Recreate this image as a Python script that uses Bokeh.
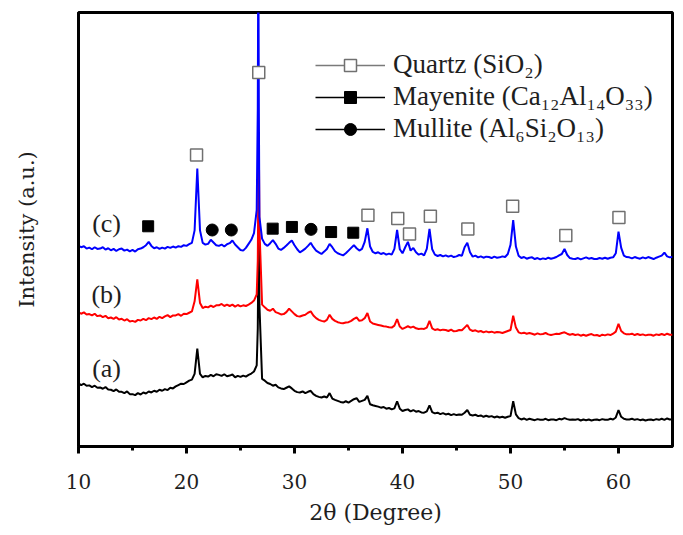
from bokeh.plotting import figure
from bokeh.models import Range1d, FixedTicker, Legend, LegendItem
from bokeh.core.properties import value
from bokeh.embed import file_html
from bokeh.resources import INLINE

# 2-theta grid (degrees)
two_theta = [
    10, 10.25, 10.5, 10.75, 11, 11.25, 11.5, 11.75, 12, 12.25, 12.5, 12.75,
    13, 13.25, 13.5, 13.75, 14, 14.25, 14.5, 14.75, 15, 15.25, 15.5, 15.75,
    16, 16.25, 16.5, 16.75, 17, 17.25, 17.5, 17.75, 18, 18.25, 18.5, 18.75,
    19, 19.25, 19.5, 19.75, 20, 20.25, 20.5, 20.75, 21, 21.25, 21.5, 21.75,
    22, 22.25, 22.5, 22.75, 23, 23.25, 23.5, 23.75, 24, 24.25, 24.5, 24.75,
    25, 25.25, 25.5, 25.75, 26, 26.25, 26.5, 26.6, 26.65, 26.7, 26.75,
    27, 27.25, 27.5, 27.75, 28, 28.25, 28.5, 28.75, 29, 29.25, 29.5, 29.75,
    30, 30.25, 30.5, 30.75, 31, 31.25, 31.5, 31.75, 32, 32.25, 32.5, 32.75,
    33, 33.25, 33.5, 33.75, 34, 34.25, 34.5, 34.75, 35, 35.25, 35.5, 35.75,
    36, 36.25, 36.5, 36.75, 37, 37.25, 37.5, 37.75, 38, 38.25, 38.5, 38.75,
    39, 39.25, 39.5, 39.75, 40, 40.25, 40.5, 40.75, 41, 41.25, 41.5, 41.75,
    42, 42.25, 42.5, 42.75, 43, 43.25, 43.5, 43.75, 44, 44.25, 44.5, 44.75,
    45, 45.25, 45.5, 45.75, 46, 46.25, 46.5, 46.75, 47, 47.25, 47.5, 47.75,
    48, 48.25, 48.5, 48.75, 49, 49.25, 49.5, 49.75, 50, 50.25, 50.5, 50.75,
    51, 51.25, 51.5, 51.75, 52, 52.25, 52.5, 52.75, 53, 53.25, 53.5, 53.75,
    54, 54.25, 54.5, 54.75, 55, 55.25, 55.5, 55.75, 56, 56.25, 56.5, 56.75,
    57, 57.25, 57.5, 57.75, 58, 58.25, 58.5, 58.75, 59, 59.25, 59.5, 59.75,
    60, 60.25, 60.5, 60.75, 61, 61.25, 61.5, 61.75, 62, 62.25, 62.5, 62.75,
    63, 63.25, 63.5, 63.75, 64, 64.25, 64.5, 64.75, 65,
]

# (c) blue pattern (displayed, offset) intensity, a.u.
intensity_c = [
    595, 590, 593, 586, 589, 584, 590, 585, 586, 590, 583, 587,
    581, 585, 579, 584, 586, 580, 583, 578, 582, 577, 584, 586,
    590, 596, 606, 594, 587, 590, 585, 589, 586, 591, 588, 592,
    589, 593, 591, 596, 594, 599, 603, 640, 823, 640, 603, 598,
    600, 612, 604, 596, 594, 598, 592, 599, 602, 610, 598, 590,
    582, 580, 588, 600, 612, 632, 700, 1000, 1500, 1000, 680,
    615, 600, 594, 602, 611, 600, 586, 582, 588, 595, 603, 610,
    596, 584, 575, 580, 586, 594, 603, 590, 580, 575, 570, 577,
    585, 600, 590, 578, 572, 569, 566, 572, 580, 588, 596, 587,
    580, 585, 606, 646, 592, 576, 572, 575, 570, 573, 568, 571,
    568, 585, 641, 584, 572, 590, 606, 580, 588, 575, 568, 571,
    566, 585, 644, 584, 568, 564, 567, 563, 566, 562, 565, 561,
    563, 567, 565, 590, 603, 575, 562, 565, 560, 563, 559, 562,
    561, 558, 562, 559, 560, 563, 561, 570, 597, 670, 592, 565,
    558, 561, 556, 559, 560, 555, 558, 554, 557, 555, 559, 556,
    558, 561, 566, 570, 585, 567, 558, 556, 555, 558, 554, 557,
    560, 556, 558, 555, 555, 558, 556, 559, 556, 559, 560, 572,
    636, 588, 565, 561, 560, 557, 561, 558, 556, 560, 557, 561,
    558, 555, 559, 562, 565, 574, 563, 560, 562,
]

# (b) red pattern
intensity_b = [
    398, 393, 397, 391, 392, 388, 393, 386, 388, 383, 387, 380,
    382, 378, 383, 376, 378, 373, 377, 370, 372, 369, 375, 373,
    378, 374, 380, 377, 382, 378, 384, 380, 385, 389, 383, 388,
    388, 392, 387, 393, 392, 396, 400, 430, 495, 425, 410, 414,
    412, 417, 413, 418, 418, 422, 416, 420, 416, 420, 414, 419,
    415, 418, 416, 420, 425, 432, 450, 550, 750, 900, 650,
    420, 412, 405, 402, 408, 398, 395, 391, 392, 398, 408, 400,
    392, 386, 385, 388, 390, 396, 400, 388, 380, 375, 372, 370,
    375, 390, 378, 372, 368, 366, 365, 367, 368, 372, 378, 382,
    372, 374, 380, 395, 370, 364, 362, 360, 358, 356, 355, 353,
    352, 358, 377, 355, 348, 352, 356, 352, 355, 350, 348, 349,
    348, 352, 372, 350, 345, 347, 344, 346, 345, 342, 346, 341,
    342, 345, 344, 352, 360, 346, 342, 344, 340, 342, 338, 341,
    338, 340, 337, 339, 338, 336, 339, 342, 345, 387, 352, 338,
    335, 337, 334, 336, 334, 331, 335, 332, 333, 336, 332, 330,
    332, 334, 333, 336, 338, 334, 331, 333, 330, 332, 328, 331,
    328, 331, 333, 329, 330, 327, 331, 329, 332, 330, 334, 340,
    363, 342, 335, 332, 332, 334, 330, 333, 330, 332, 329, 331,
    331, 328, 332, 330, 333, 330, 334, 331, 331,
]

# (a) black pattern
intensity_a = [
    187, 182, 186, 180, 181, 176, 180, 174, 175, 171, 176, 169,
    168, 164, 169, 162, 162, 158, 163, 155, 155, 152, 158, 154,
    160, 157, 163, 160, 165, 162, 168, 165, 170, 167, 174, 172,
    178, 182, 186, 185, 190, 195, 198, 215, 290, 215, 205, 209,
    207, 212, 208, 214, 212, 209, 214, 208, 210, 213, 205, 209,
    206, 210, 207, 212, 216, 222, 240, 350, 550, 700, 420,
    200, 195, 188, 185, 180, 183, 175, 172, 170, 174, 178, 172,
    165, 161, 160, 163, 158, 162, 165, 155, 150, 147, 145, 148,
    145, 158, 142, 138, 135, 132, 130, 134, 130, 135, 140, 143,
    132, 135, 138, 150, 125, 122, 120, 118, 115, 117, 112, 114,
    110, 113, 134, 112, 105, 108, 110, 104, 108, 103, 105, 101,
    100, 104, 122, 102, 98, 100, 96, 99, 95, 97, 93, 96,
    93, 95, 94, 100, 108, 94, 92, 94, 90, 92, 88, 91,
    88, 90, 86, 89, 86, 88, 85, 88, 90, 134, 95, 84,
    80, 83, 79, 82, 80, 78, 81, 79, 79, 82, 78, 80,
    80, 78, 82, 80, 84, 81, 79, 80, 79, 81, 77, 80,
    78, 80, 77, 79, 80, 78, 81, 79, 79, 82, 80, 86,
    108, 88, 82, 80, 80, 82, 79, 81, 78, 80, 77, 79,
    80, 78, 81, 79, 82, 79, 83, 80, 81,
]

# phase identification markers (peak position, marker height)
quartz_pos = [20.93, 26.69, 36.8, 39.56, 40.65, 42.58, 46.05, 50.2, 55.12, 60.04]
quartz_mark = [863, 1107, 685, 675, 629, 682, 644, 711, 625, 678]
mayenite_pos = [16.45, 27.98, 29.76, 33.39, 35.44]
mayenite_mark = [652, 645, 650, 635, 633]
mullite_pos = [22.38, 24.15, 31.53]
mullite_mark = [641, 641, 643]

sample_labels = ["(a)", "(b)", "(c)"]
sample_label_y = [230, 450, 660]
sample_label_x = [12.6, 12.6, 12.6]

x_ticks = [10, 20, 30, 40, 50, 60]
x_minor = [15, 25, 35, 45, 55]

SERIF = "Liberation Serif"
AXIS_SERIF = "DejaVu Serif"
TXT = "#1e1e1e"
NAN = float("nan")

p = figure(width=675, height=527, output_backend="svg", toolbar_location=None,
           x_range=Range1d(10, 65), y_range=Range1d(0, 1285),
           min_border_left=78, min_border_right=3, min_border_top=12,
           min_border_bottom=0)
p.grid.visible = False
p.background_fill_color = "white"
p.border_fill_color = "white"
p.outline_line_color = "black"
p.outline_line_width = 3
p.outline_line_alpha = 1

xa = p.xaxis[0]
xa.ticker = FixedTicker(ticks=x_ticks, minor_ticks=x_minor)
xa.axis_line_width = 3
xa.axis_line_color = "black"
xa.major_tick_line_width = 3
xa.major_tick_line_color = "black"
xa.major_tick_out = 7
xa.major_tick_in = 0
xa.minor_tick_line_width = 3
xa.minor_tick_line_color = "black"
xa.minor_tick_out = 4
xa.minor_tick_in = 0
xa.major_label_text_font = AXIS_SERIF
xa.major_label_text_font_style = "normal"
xa.major_label_text_font_size = "20px"
xa.major_label_text_color = TXT
xa.major_label_standoff = 20
xa.axis_label = "2θ (Degree)"
xa.axis_label_text_font = AXIS_SERIF
xa.axis_label_text_font_size = "22px"
xa.axis_label_text_font_style = "normal"
xa.axis_label_text_color = TXT
xa.axis_label_standoff = 8

ya = p.yaxis[0]
ya.ticker = FixedTicker(ticks=[])
ya.axis_line_width = 3
ya.axis_line_color = "black"
ya.major_tick_line_color = None
ya.minor_tick_line_color = None
ya.major_label_text_font_size = "0px"
ya.axis_label = "Intensity (a.u.)"
ya.axis_label_text_font = AXIS_SERIF
ya.axis_label_text_font_size = "21px"
ya.axis_label_text_font_style = "normal"
ya.axis_label_text_color = TXT
ya.axis_label_standoff = 40

p.line(two_theta, intensity_a, line_color="black", line_width=2)
p.line(two_theta, intensity_b, line_color="#ff0000", line_width=2)
p.line(two_theta, intensity_c, line_color="#0000ff", line_width=2)

q = p.scatter(quartz_pos, quartz_mark, marker="square", size=12,
              fill_color="white", line_color="#707070", line_width=1.5)
m = p.scatter(mayenite_pos, mayenite_mark, marker="square", size=11,
              fill_color="black", line_color="black")
c = p.scatter(mullite_pos, mullite_mark, marker="circle", size=12,
              fill_color="black", line_color="black")

# legend-only line renderers (no visible data)
lq = p.line([NAN, NAN], [NAN, NAN], line_color="#7a7a7a", line_width=1.5)
lm = p.line([NAN, NAN], [NAN, NAN], line_color="black", line_width=1.5)
lc = p.line([NAN, NAN], [NAN, NAN], line_color="black", line_width=1.5)

p.text(x=sample_label_x, y=sample_label_y, text=sample_labels,
       text_font=value(SERIF), text_font_size="26px", text_color=TXT,
       text_align="center", text_baseline="middle")

legend = Legend(items=[
    LegendItem(label="Quartz (SiO₂)", renderers=[lq, q]),
    LegendItem(label="Mayenite (Ca₁₂Al₁₄O₃₃)", renderers=[lm, m]),
    LegendItem(label="Mullite (Al₆Si₂O₁₃)", renderers=[lc, c]),
], location=(237, 302), glyph_width=70, glyph_height=30, label_height=30,
   spacing=1, padding=0, margin=0, label_standoff=8,
   border_line_alpha=0, background_fill_alpha=0,
   label_text_font=SERIF, label_text_font_size="27px", label_text_color=TXT)
p.add_layout(legend)

open("out.html", "w").write(file_html(p, INLINE))
